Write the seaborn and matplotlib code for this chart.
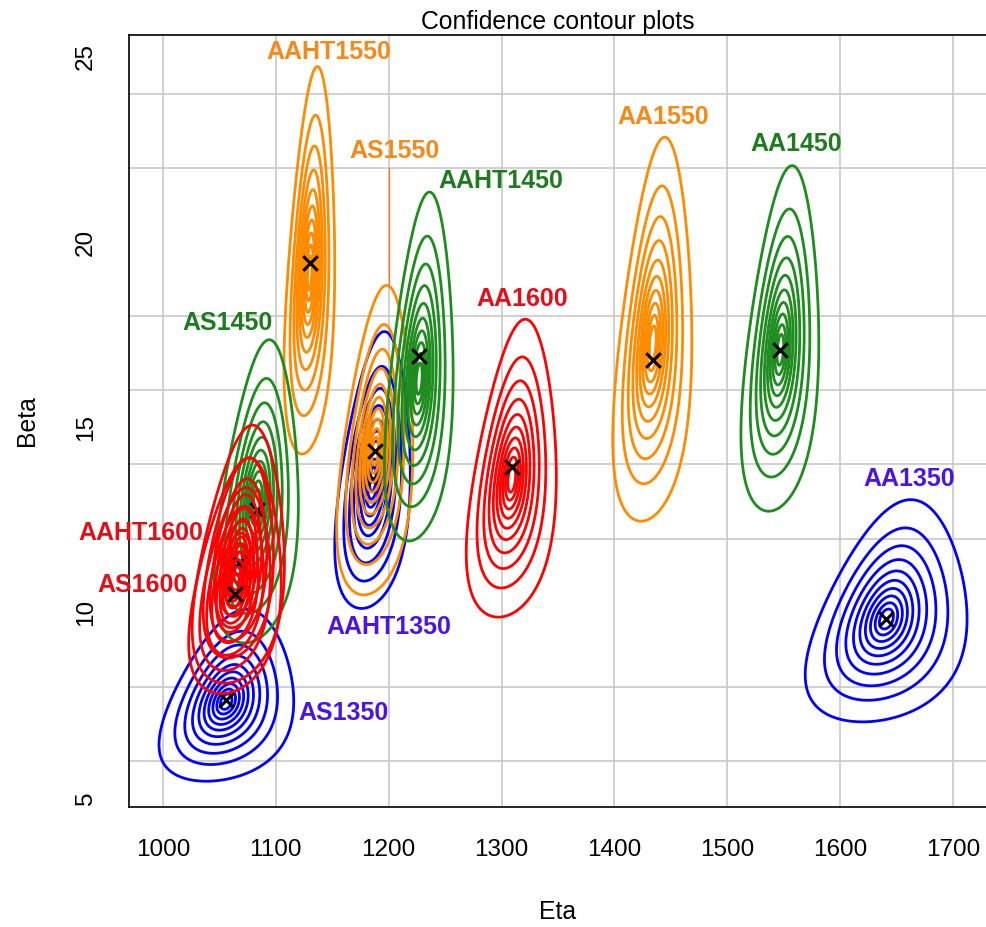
import math
import numpy as np
import pandas as pd
import matplotlib
matplotlib.use("Agg")
import matplotlib.pyplot as plt
import seaborn as sns

# ---- data ----
series = ["AS1350", "AAHT1350", "AA1350",
          "AS1550", "AAHT1550", "AA1550",
          "AS1450", "AAHT1450", "AA1450",
          "AAHT1600", "AS1600", "AA1600"]
temperature = ["1350", "1350", "1350",
               "1550", "1550", "1550",
               "1450", "1450", "1450",
               "1600", "1600", "1600"]
# maximum-likelihood estimates (the crosses)
eta_hat = [1056, 1186, 1641, 1188, 1130, 1434, 1083, 1227, 1547, 1067, 1064, 1309]
beta_hat = [7.65, 13.6, 9.83, 14.36, 19.43, 16.82, 12.77, 16.93, 17.09, 11.33, 10.5, 13.94]
# centre of the likelihood contours
beta_contour = [7.6, 13.6, 9.83, 14.36, 19.16, 17.27, 12.96, 16.31, 17.09, 11.32, 10.77, 13.61]
# sample size behind each likelihood surface
n_obs = [60, 74, 60, 66, 75, 62, 56, 67, 75, 59, 64, 64]
# deviance levels of the nested contours (outer to inner)
contour_levels = [9.2, 5.53, 3.65, 2.44, 1.62, 1.06, 0.67, 0.387, 0.193, 0.0745]

# ---- style ----
line_colors = {"1350": "#0000FF", "1450": "#1E8C1E", "1550": "#FF8C00", "1600": "#FF0000"}
label_colors = {"1350": "#4A14E6", "1450": "#207A20", "1550": "#F5891A", "1600": "#E0101A"}
label_pos = {"AAHT1550": (1147, 25.13), "AS1550": (1205, 22.46), "AAHT1450": (1299, 21.64),
             "AA1550": (1443, 23.37), "AA1450": (1561, 22.64), "AA1600": (1318, 18.46),
             "AS1450": (1057, 17.81), "AAHT1600": (980.5, 12.16), "AS1600": (982, 10.75),
             "AAHT1350": (1200, 9.61), "AS1350": (1160, 7.30), "AA1350": (1661, 13.6)}

sns.set_style("white")
plt.rcParams["font.family"] = ["Liberation Sans", "DejaVu Sans"]
plt.rcParams["text.color"] = "black"
plt.rcParams["axes.labelcolor"] = "black"
plt.rcParams["xtick.color"] = "black"
plt.rcParams["ytick.color"] = "black"

fig = plt.figure(figsize=(9.87, 9.27), dpi=100)
ax = fig.add_axes([129 / 987, 1 - 807 / 927, 1 - 129 / 987, (807 - 35) / 927])

EULER = 0.5772156649015329
lgam = np.vectorize(math.lgamma)


def weibull_kl(eta, beta, eta0, beta0):
    """Expected per-observation log-likelihood drop of a Weibull model."""
    elog = math.log(eta0) - EULER / beta0
    def ell(e, b):
        return (np.log(b) - b * np.log(e) + (b - 1) * elog
                - np.exp(b * np.log(eta0 / e) + lgam(1 + b / beta0)))
    return ell(np.array(eta0), np.array(beta0)) - ell(eta, beta)


for k, name in enumerate(series):
    e0, b0, n = eta_hat[k], beta_contour[k], n_obs[k]
    sd_e = 1.053 * e0 / (b0 * math.sqrt(n))
    sd_b = 0.78 * b0 / math.sqrt(n)
    ee = np.linspace(e0 - 6 * sd_e, e0 + 6 * sd_e, 400)
    bb = np.linspace(max(b0 - 6 * sd_b, 0.5), b0 + 8 * sd_b, 400)
    E, B = np.meshgrid(ee, bb)
    D = 2 * n * weibull_kl(E, B, e0, b0)
    col = line_colors[temperature[k]]
    ax.contour(E, B, D, levels=sorted(contour_levels), colors=col,
               linewidths=2.0, zorder=3 + k * 0.1)
    sns.scatterplot(x=[eta_hat[k]], y=[beta_hat[k]], marker="x", color="black", s=110,
                    linewidth=2.2, ax=ax, zorder=3.05 + k * 0.1, legend=False)

for k, name in enumerate(series):
    x, y = label_pos[name]
    ax.text(x, y, name, color=label_colors[temperature[k]], fontsize=18,
            fontweight="bold", ha="center", va="center", zorder=10)

# leader line for AS1550
ax.plot([1200, 1200], [22.0, 18.87], color="#F77B2E", lw=1.0, zorder=5)

ax.set_xlim(969.9, 1730.1)
ax.set_ylim(4.76, 25.585)
ax.set_xticks(np.arange(1000, 1701, 100))
ax.set_yticks(np.arange(5, 26, 5))
ax.set_yticks(np.arange(6, 25, 2), minor=True)
ax.tick_params(axis="both", which="major", direction="out", length=11, width=1.2,
               labelsize=17.5, color="black", labelcolor="black", pad=12)
ax.tick_params(axis="y", which="major", labelrotation=90)
ax.tick_params(axis="y", which="minor", length=0)
for lab in ax.get_yticklabels():
    lab.set_verticalalignment("center")
ax.grid(True, axis="x", which="major", color="#C8C8C8", lw=1.2)
ax.grid(True, axis="y", which="minor", color="#C8C8C8", lw=1.2)
ax.set_axisbelow(True)
for s in ["left", "bottom", "top"]:
    ax.spines[s].set_visible(True)
    ax.spines[s].set_color("black")
    ax.spines[s].set_linewidth(1.2)
ax.spines["right"].set_visible(False)

ax.set_xlabel("Eta", fontsize=17.8, labelpad=28)
ax.set_ylabel("Beta", fontsize=17.8, labelpad=26)
ax.set_title("Confidence contour plots", fontsize=17.8, pad=4)

fig.savefig("out.png", dpi=100)
